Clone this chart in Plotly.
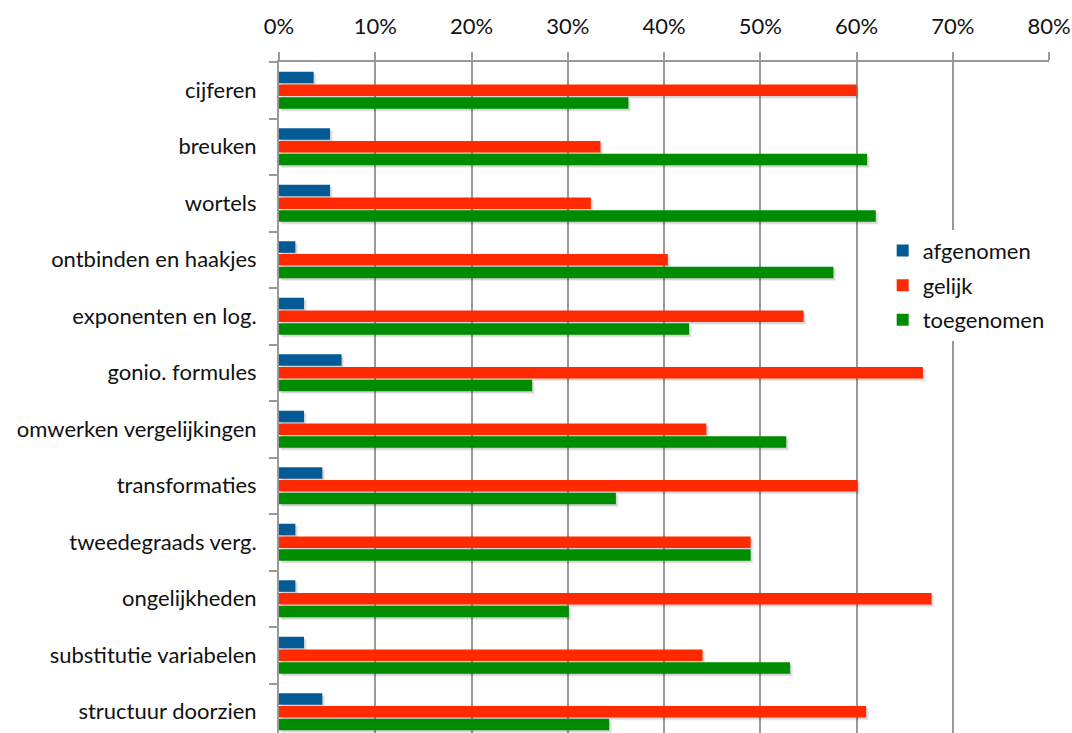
import plotly.graph_objects as go

# Survey categories (top to bottom) and share of respondents per answer
categories = [
    "cijferen", "breuken", "wortels", "ontbinden en haakjes",
    "exponenten en log.", "gonio. formules", "omwerken vergelijkingen",
    "transformaties", "tweedegraads verg.", "ongelijkheden",
    "substitutie variabelen", "structuur doorzien",
]
afgenomen = [0.036, 0.053, 0.053, 0.017, 0.026, 0.065, 0.026, 0.045, 0.017, 0.017, 0.026, 0.045]
gelijk = [0.600, 0.334, 0.324, 0.404, 0.545, 0.669, 0.444, 0.601, 0.490, 0.678, 0.440, 0.610]
toegenomen = [0.363, 0.611, 0.620, 0.576, 0.426, 0.263, 0.527, 0.350, 0.490, 0.301, 0.531, 0.343]

series = [
    ("afgenomen", afgenomen, "#045a95"),
    ("gelijk", gelijk, "#ff2a00"),
    ("toegenomen", toegenomen, "#008c00"),
]

FONT = "Lato"
FS = 22
BAR_W = 0.205
OFFSETS = [-0.3275, -0.1025, 0.1225]

fig = go.Figure()

# soft drop shadows underneath the bars (two faint layers)
for shift, base, alpha in [(0.05, 0.003, 0.07), (0.03, 0.0015, 0.10)]:
    for (name, vals, col), off in zip(series, OFFSETS):
        fig.add_trace(go.Bar(
            y=categories, x=vals, orientation="h",
            base=base, width=BAR_W, offset=off + shift,
            marker=dict(color=f"rgba(0,0,0,{alpha})", line=dict(width=0)),
            showlegend=False, hoverinfo="skip",
        ))

for (name, vals, col), off in zip(series, OFFSETS):
    fig.add_trace(go.Bar(
        y=categories, x=vals, orientation="h", name=name,
        width=BAR_W, offset=off, legendgroup=name,
        marker=dict(color=col, line=dict(width=0)),
    ))

fig.update_layout(
    width=1072, height=733,
    margin=dict(l=279, r=23, t=62, b=0),
    paper_bgcolor="white", plot_bgcolor="white",
    barmode="overlay",
    font=dict(family=FONT, size=FS, color="#111111"),
    legend=dict(
        x=0.784, y=0.750, xanchor="left", yanchor="top",
        bgcolor="white", borderwidth=0,
        font=dict(family=FONT, size=FS, color="#111111"),
        traceorder="grouped", tracegroupgap=3,
    ),
    xaxis=dict(
        side="top", range=[0, 0.8], dtick=0.1, tickformat=".0%",
        showgrid=True, gridcolor="#999999", gridwidth=2,
        showline=True, linecolor="#999999", linewidth=2,
        ticks="outside", ticklen=8, tickwidth=2, tickcolor="#999999",
        zeroline=False, ticklabelstandoff=9,
    ),
    yaxis=dict(
        type="category", range=[11.376, -0.5],
        showgrid=False, showline=True, linecolor="#999999", linewidth=2,
        ticks="outside", ticklen=8, tickwidth=2, tickcolor="#999999",
        tickson="boundaries", ticklabelstandoff=16,
    ),
)

fig.write_html("out.html")
